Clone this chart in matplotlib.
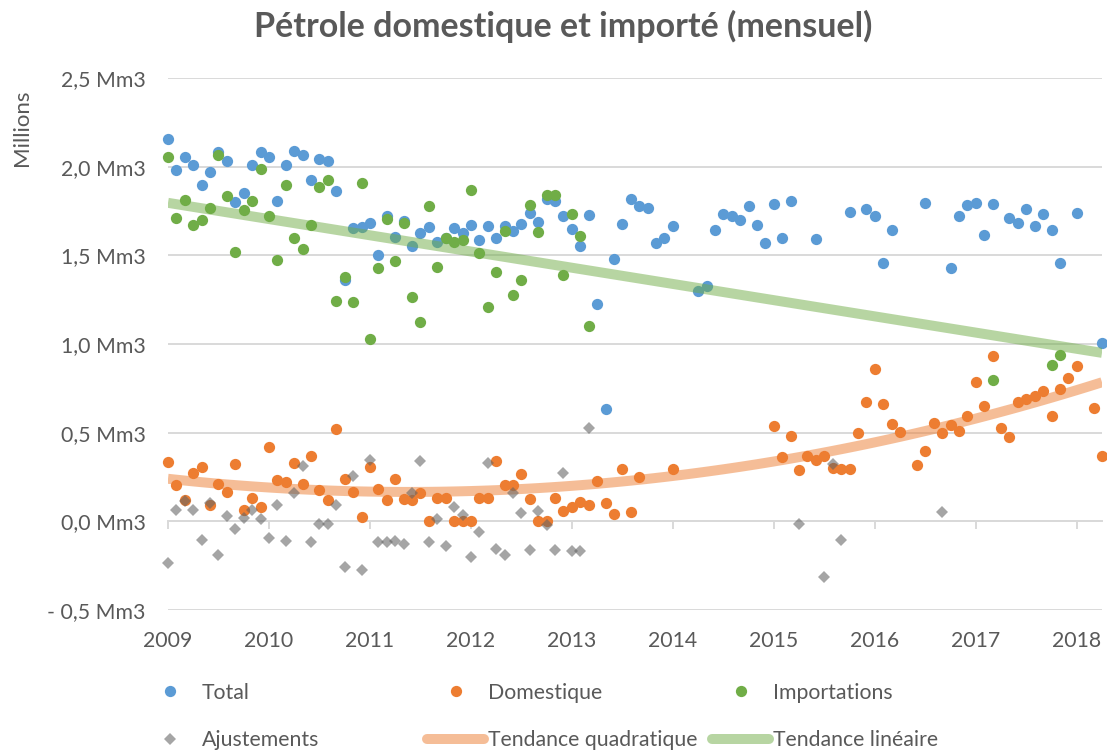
import numpy as np
import matplotlib
matplotlib.use("Agg")
import matplotlib.pyplot as plt
from matplotlib.lines import Line2D

plt.rcParams['font.family'] = ['Lato', 'DejaVu Sans']

nan = np.nan

# monthly values, Jan 2009 .. Apr 2018 (millions of m3), one row per year
total = [
    2.157, 1.984, 2.055, 2.012, 1.897, 1.970, 2.085, 2.030, 1.800, 1.850, 2.008, 2.080,
    2.055, 1.807, 2.008, 2.089, 2.063, 1.925, 2.044, 2.033, 1.860, 1.363, 1.655, 1.660,
    1.683, 1.502, 1.720, 1.604, 1.694, 1.555, 1.627, 1.662, 1.578, 1.600, 1.655, 1.627,
    1.673, 1.589, 1.668, 1.598, 1.664, 1.640, 1.677, 1.740, 1.690, 1.818, 1.809, 1.720,
    1.651, 1.551, 1.726, 1.228, 0.636, 1.478, 1.675, 1.820, 1.780, 1.765, 1.572, 1.600,
    1.668, nan, nan, 1.301, 1.325, 1.645, 1.734, 1.720, 1.700, 1.779, 1.672, 1.572,
    1.790, 1.598, 1.808, nan, nan, 1.594, nan, nan, nan, 1.747, nan, 1.762,
    1.722, 1.457, 1.641, nan, nan, nan, 1.797, nan, nan, 1.427, 1.724, 1.782,
    1.797, 1.613, 1.788, nan, 1.713, 1.683, 1.760, 1.666, 1.734, 1.641, 1.457, nan,
    1.741, nan, nan, 1.008]

domestique = [
    0.335, 0.207, 0.122, 0.273, 0.307, 0.094, 0.211, 0.166, 0.325, 0.066, 0.132, 0.079,
    0.420, 0.235, 0.220, 0.329, 0.213, 0.371, 0.175, 0.122, 0.521, 0.239, 0.168, 0.025,
    0.307, 0.184, 0.118, 0.241, 0.128, 0.118, 0.160, 0.000, 0.132, 0.132, 0.000, 0.000,
    0.000, 0.132, 0.132, 0.342, 0.207, 0.207, 0.267, 0.126, 0.000, 0.000, 0.132, 0.056,
    0.081, 0.107, 0.094, 0.226, 0.104, 0.040, 0.296, 0.053, 0.250, nan, nan, nan,
    0.296, nan, nan, nan, nan, nan, nan, nan, nan, nan, nan, nan,
    0.536, 0.361, 0.483, 0.292, 0.367, 0.344, 0.371, 0.301, 0.296, 0.296, 0.499, 0.673,
    0.861, 0.662, 0.549, 0.504, nan, 0.316, 0.399, 0.555, 0.499, 0.544, 0.508, 0.592,
    0.784, 0.649, 0.935, 0.527, 0.474, 0.675, 0.690, 0.705, 0.733, 0.596, 0.747, 0.807,
    0.874, nan, 0.640, 0.371]

importations = [
    2.055, 1.711, 1.814, 1.670, 1.698, 1.769, 2.064, 1.833, 1.519, 1.758, 1.805, 1.985,
    1.724, 1.472, 1.895, 1.598, 1.536, 1.672, 1.884, 1.923, 1.243, 1.376, 1.235, 1.908,
    1.027, 1.429, 1.707, 1.467, 1.685, 1.267, 1.122, 1.777, 1.433, 1.598, 1.574, 1.589,
    1.871, 1.514, 1.207, 1.405, 1.640, 1.275, 1.361, 1.785, 1.630, 1.841, 1.841, 1.391,
    1.734, 1.611, 1.104, nan, nan, nan, nan, nan, nan, nan, nan, nan,
    nan, nan, nan, nan, nan, nan, nan, nan, nan, nan, nan, nan,
    nan, nan, nan, nan, nan, nan, nan, nan, nan, nan, nan, nan,
    nan, nan, nan, nan, nan, nan, nan, nan, nan, nan, nan, nan,
    nan, nan, 0.799, nan, nan, nan, nan, nan, nan, 0.882, 0.940, nan,
    nan, nan, nan, nan]

ajustements = [
    -0.235, 0.062, 0.117, 0.062, -0.107, 0.104, -0.190, 0.032, -0.043, 0.019, 0.066, 0.014,
    -0.092, 0.094, -0.111, 0.162, 0.314, -0.118, -0.015, -0.015, 0.092, -0.255, 0.254, -0.272,
    0.348, -0.114, -0.114, -0.110, -0.126, 0.160, 0.342, -0.114, 0.014, -0.137, 0.081, 0.038,
    -0.199, -0.058, 0.329, -0.156, -0.190, 0.160, 0.047, -0.163, 0.056, -0.019, -0.163, 0.273,
    -0.169, -0.169, 0.525, nan, nan, nan, nan, nan, nan, nan, nan, nan,
    nan, nan, nan, nan, nan, nan, nan, nan, nan, nan, nan, nan,
    nan, nan, nan, -0.015, nan, nan, -0.314, 0.325, -0.103, nan, nan, nan,
    nan, nan, nan, nan, nan, nan, nan, nan, 0.051, nan, nan, nan,
    nan, nan, nan, nan, nan, nan, nan, nan, nan, nan, nan, nan,
    nan, nan, nan, nan]

# trend lines (month index -> value)
trend_months = [0, 12, 24, 36, 48, 60, 72, 84, 96, 108, 111]
quad_trend = [0.239, 0.197, 0.169, 0.164, 0.194, 0.254, 0.338, 0.451, 0.592, 0.743, 0.771]
lin_months = [0, 111]
lin_trend = [1.796, 0.95]

years = list(range(2009, 2019))
yticks = [-0.5, 0.0, 0.5, 1.0, 1.5, 2.0, 2.5]

# %%
months = np.arange(len(total))

# smooth quadratic through the read trend values
quad = np.polyval(np.polyfit(trend_months, quad_trend, 2), months)

c_blue, c_orange, c_green = "#5B9BD5", "#ED7D31", "#70AD47"
txt = "#595959"
grid_c = "#D9D9D9"
font_size = 15.3

fig = plt.figure(figsize=(11.07, 7.51), dpi=100)
ax = fig.add_axes([168/1107, 1 - 610/751, 934/1107, 532/751])

ms = 8.1
ax.plot(months, total, "o", ms=ms, mew=0, color=c_blue, zorder=3, clip_on=False)
ax.plot(months, quad, "-", lw=7.2, color=c_orange, alpha=0.5, solid_capstyle="butt", zorder=4)
ax.plot(lin_months, lin_trend, "-", lw=7.2, color=c_green, alpha=0.5, solid_capstyle="butt", zorder=4)
ax.plot(months, domestique, "o", ms=ms, mew=0, color=c_orange, zorder=5, clip_on=False)
ax.plot(months, importations, "o", ms=ms, mew=0, color=c_green, zorder=6, clip_on=False)
ax.plot(months, ajustements, "D", ms=6, mew=0, color="#646464", alpha=0.58, zorder=7, clip_on=False)

ax.set_xlim(0, len(total) - 1)
ax.set_ylim(-0.5, 2.5)

for s in ["top", "right", "left"]:
    ax.spines[s].set_visible(False)
ax.spines["bottom"].set_position(("data", 0))
ax.spines["bottom"].set_color(grid_c)
ax.spines["bottom"].set_linewidth(1.4)

ax.set_yticks(yticks)
ax.set_yticklabels([("- " if v < 0 else "") + f"{abs(v):.1f}".replace(".", ",") + " Mm3" for v in yticks])
ax.tick_params(axis="y", length=0, pad=16, labelsize=font_size, labelcolor=txt)
ax.yaxis.grid(True, color=grid_c, lw=1.4)
ax.set_axisbelow(True)

xt = [12 * (y - 2009) for y in years]
ax.set_xticks(xt)
ax.tick_params(axis="x", length=6, width=1.4, color=grid_c, direction="out", labelbottom=False)
sec = ax.secondary_xaxis(0)
sec.set_xticks(xt)
sec.set_xticklabels([str(y) for y in years])
sec.tick_params(length=0, pad=15, labelsize=font_size, labelcolor=txt)
sec.spines["bottom"].set_visible(False)

fig.text(563/1107, 1 - 26/751, "Pétrole domestique et importé (mensuel)",
         ha="center", va="center", fontsize=24.5, fontweight="bold", color=txt)
fig.text(22/1107, 1 - 128/751, "Millions", rotation=90, ha="center", va="center",
         fontsize=16, color=txt)

# legend: three columns, two rows
def mk(marker, color, size, alpha=1.0):
    return Line2D([], [], ls="none", marker=marker, ms=size, mew=0, color=color, alpha=alpha)

def ln(color):
    return Line2D([], [], lw=7.2, color=color, alpha=0.5, solid_capstyle="round")

columns = [
    ([mk("o", c_blue, ms), mk("D", "#646464", 6, 0.58)], ["Total", "Ajustements"], 141),
    ([mk("o", c_orange, ms), ln(c_orange)], ["Domestique", "Tendance quadratique"], 427),
    ([mk("o", c_green, ms), ln(c_green)], ["Importations", "Tendance linéaire"], 712),
]
for hs, ls, x0 in columns:
    fig.legend(hs, ls, loc="center left", bbox_to_anchor=(x0/1107, 1 - 716.5/751),
               frameon=False, fontsize=font_size, labelcolor=txt, handlelength=2.7,
               handletextpad=0.15, labelspacing=1.3, borderpad=0, borderaxespad=0)

fig.savefig("out.png", dpi=100)
